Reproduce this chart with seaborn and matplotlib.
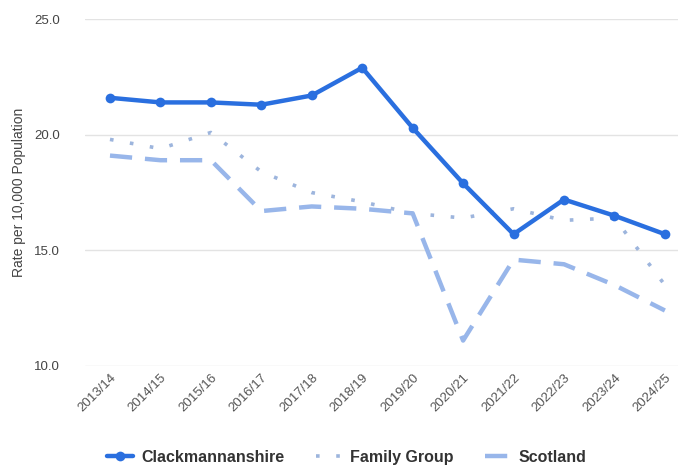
import matplotlib
matplotlib.use('Agg')
import matplotlib.pyplot as plt
import seaborn as sns
import pandas as pd

years = ['2013/14', '2014/15', '2015/16', '2016/17', '2017/18', '2018/19',
         '2019/20', '2020/21', '2021/22', '2022/23', '2023/24', '2024/25']
clackmannanshire = [21.6, 21.4, 21.4, 21.3, 21.7, 22.9, 20.3, 17.9, 15.7, 17.2, 16.5, 15.7]
family_group = [19.8, 19.4, 20.1, 18.4, 17.5, 17.1, 16.6, 16.4, 16.8, 16.3, 16.4, 13.5]
scotland = [19.1, 18.9, 18.9, 16.7, 16.9, 16.8, 16.6, 11.1, 14.6, 14.4, 13.5, 12.4]
y_ticks = [10.0, 15.0, 20.0, 25.0]

df = pd.DataFrame({'Year': years, 'Clackmannanshire': clackmannanshire,
                   'Family Group': family_group, 'Scotland': scotland})

sns.set_theme(style='white')
plt.rcParams['font.family'] = ['Liberation Sans', 'DejaVu Sans']

fig = plt.figure(figsize=(6.78, 4.68), dpi=100)
ax = fig.add_axes([0.125, 0.218, 0.875, 0.741])

c_main = '#2a6fdf'
c_fam = '#9db5dd'
c_scot = '#98b6ea'

sns.lineplot(data=df, x='Year', y='Family Group', ax=ax, color=c_fam, linewidth=2.6,
             label='Family Group', sort=False)
ax.lines[-1].set_dashes((1, 4.6))
sns.lineplot(data=df, x='Year', y='Scotland', ax=ax, color=c_scot, linewidth=3.2,
             label='Scotland', sort=False)
ax.lines[-1].set_dashes((5, 2.9))
sns.lineplot(data=df, x='Year', y='Clackmannanshire', ax=ax, color=c_main, linewidth=3.2,
             marker='o', markersize=7, markeredgewidth=0, label='Clackmannanshire', sort=False)

ax.set_xlim(-0.5, 11.26)
ax.set_ylim(10, 25)
ax.set_yticks(y_ticks)
ax.set_yticklabels([f'{v:.1f}' for v in y_ticks])
ax.grid(axis='y', color='#e3e3e3', linewidth=1)
ax.set_axisbelow(True)
for s in ax.spines.values():
    s.set_visible(False)
ax.tick_params(axis='y', labelsize=9.5, labelcolor='#444444', pad=18, length=0)
ax.tick_params(axis='x', labelsize=9.5, labelcolor='#555555', pad=4, length=0)
plt.setp(ax.get_xticklabels(), rotation=45, ha='right', rotation_mode='anchor')
ax.set_xlabel('')
ax.set_ylabel('Rate per 10,000 Population', fontsize=10, color='#444444', labelpad=6)

handles, labels = ax.get_legend_handles_labels()
order = [labels.index(n) for n in ['Clackmannanshire', 'Family Group', 'Scotland']]
leg = ax.legend([handles[i] for i in order], [labels[i] for i in order],
                loc='center', bbox_to_anchor=(0.442, -0.263), ncol=3, frameon=False,
                prop={'size': 11.5, 'weight': 'bold'}, handlelength=1.6, columnspacing=2.0,
                handletextpad=0.5)
for t in leg.get_texts():
    t.set_color('#333333')

fig.savefig('out.png', dpi=100)
